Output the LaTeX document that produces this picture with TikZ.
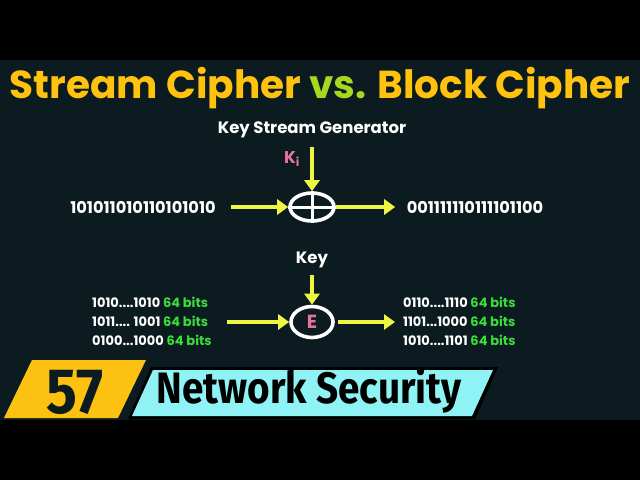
\documentclass[tikz,border=0pt]{standalone}
\usepackage{fontspec}
\setmainfont{Poppins}
\newfontfamily\bannerfont{Fira Sans}
\usetikzlibrary{arrows.meta,positioning,shapes.geometric}
\definecolor{bgteal}{HTML}{0B1B1F}
\definecolor{titleyellow}{HTML}{FFC20E}
\definecolor{vsgreen}{HTML}{A6D81E}
\definecolor{arrowyellow}{HTML}{EEF542}
\definecolor{keypink}{HTML}{E7739A}
\definecolor{bitsgreen}{HTML}{3BDB3B}
\definecolor{banneryellow}{HTML}{FDC211}
\definecolor{bannercyan}{HTML}{8FF3F5}
\tikzset{
  flow/.style={-{Triangle[length=11pt,width=15pt]},line width=3.8pt,draw=arrowyellow},
  label text/.style={text=white,font=\bfseries\fontsize{16.5}{18}\selectfont},
  bits text/.style={text=white,font=\bfseries\fontsize{16.2}{18}\selectfont},
  block text/.style={text=white,align=left,anchor=west,inner sep=0pt,
    font=\bfseries\fontsize{13}{19}\selectfont},
  op circle/.style={ellipse,draw=white,line width=3.6pt,inner sep=0pt},
}
\newcommand{\sixtyfour}{\textcolor{bitsgreen}{64 bits}}
\begin{document}
\begin{tikzpicture}[x=1pt,y=-1pt]
  \useasboundingbox (0,0) rectangle (640,480);
  \fill[black] (0,0) rectangle (640,480);
  \fill[bgteal] (0,60) rectangle (640,420);
  % title
  \node[font=\bfseries\fontsize{39}{40}\selectfont] (title) at (320,88)
    {\textcolor{titleyellow}{Stream Cipher} \textcolor{vsgreen}{vs.} \textcolor{titleyellow}{Block Cipher}};
  % stream cipher
  \node[label text] (ksg) at (312,130) {Key Stream Generator};
  \node[op circle,minimum width=44pt,minimum height=28pt] (xor) at (312,207) {};
  \draw[white,line width=3pt] (xor.north) -- (xor.south) (xor.west) -- (xor.east);
  \node[text=keypink,font=\bfseries\fontsize{17}{18}\selectfont] (ki) at (292,159) {K\textsubscript{i}};
  \node[bits text] (plainS) at (143,207) {101011010110101010};
  \node[bits text] (cipherS) at (475,207) {001111110111101100};
  \draw[flow,shorten <=5pt] (ksg) -- (xor);
  \draw[flow,shorten <=12pt] (plainS.east) -- (xor.west);
  \draw[flow,shorten >=8pt] (xor.east) -- (cipherS.west);
  % block cipher
  \node[label text] (key) at (312,260) {Key};
  \node[op circle,minimum width=42pt,minimum height=31pt,text=keypink,
    font=\bfseries\fontsize{19}{20}\selectfont] (enc) at (312,322) {E};
  \node[block text] (plainB) at (92,321)
    {1010....1010 \sixtyfour\\1011.... 1001 \sixtyfour\\0100...1000 \sixtyfour};
  \node[block text] (cipherB) at (403,321)
    {0110....1110 \sixtyfour\\1101...1000 \sixtyfour\\1010....1101 \sixtyfour};
  \draw[flow,shorten <=3pt] (key) -- (enc);
  \draw[flow,shorten <=15pt] (plainB.east |- enc) -- (enc.west);
  \draw[flow,shorten <=3pt,shorten >=8pt] (enc.east) -- (cipherB.west |- enc);
  % banner
  \fill[banneryellow] (4,418) -- (32,360) -- (146,360) -- (118,418) -- cycle;
  \fill[black] (128,419) -- (151,367) -- (498,367) -- (475,419) -- cycle;
  \fill[bannercyan] (132,416) -- (153,370) -- (493,370) -- (472,416) -- cycle;
  \node[text=bgteal,font=\bannerfont\bfseries\fontsize{64}{64}\selectfont,
    xscale=0.9,transform shape] (num) at (75,392) {57};
  \node[text=black,font=\bannerfont\bfseries\fontsize{44}{44}\selectfont,
    xscale=0.88,transform shape] (series) at (309,391) {Network Security};
\end{tikzpicture}
\end{document}
